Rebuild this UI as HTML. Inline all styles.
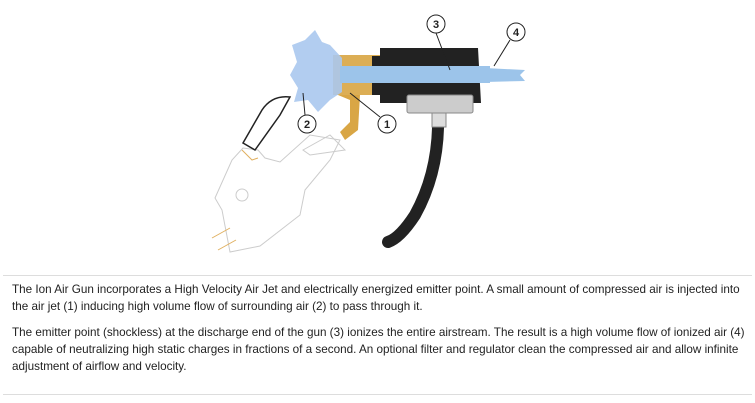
<!DOCTYPE html>
<html><head><style>
body{margin:0;background:#fff;width:755px;height:403px;overflow:hidden;font-family:"Liberation Sans",sans-serif;}
.hr{position:absolute;left:3px;width:749px;height:1px;background:#ddd;}
p{position:absolute;left:12px;margin:0;font-size:11.7px;line-height:17px;color:#222;letter-spacing:0px;white-space:nowrap;}
</style></head><body>
<svg width="755" height="270" style="position:absolute;left:0;top:0">
<g fill="none" stroke="#ccc" stroke-width="1">
<path d="M243 148 L232 160 L215 198 L222 210 L230 252 L260 246 L300 215 L305 190 L330 160 L340 140 L310 135 L280 162 L265 158 L258 150 Z"/>
<circle cx="242" cy="195" r="6"/>
<path d="M303 150 L330 135 L345 150 L310 155 Z"/>
</g>
<path d="M242 150 L252 160 L258 158" fill="none" stroke="#e0b060"/>
<path d="M212 238 L230 228 M218 250 L236 240" stroke="#e0b060"/>
<path d="M243 143 L262 110 Q272 95 290 97 L280 115 L255 150 Z" fill="#fff" stroke="#222" stroke-width="1.5"/>
<path d="M333 55 L380 55 L380 95 L333 95 Z" fill="#dcae55"/>
<path d="M338 95 L360 95 L358 130 L345 140 L340 132 L350 122 L350 100 Z" fill="#d9a645"/>
<path d="M380 48 L478 48 L481 103 L380 103 L380 95 L372 95 L372 56 L380 56 Z" fill="#222"/>
<path d="M438 112 Q440 170 415 215 Q400 238 388 242" fill="none" stroke="#222" stroke-width="12" stroke-linecap="round"/>
<rect x="407" y="95" width="66" height="18" rx="2" fill="#ccc" stroke="#888"/>
<rect x="432" y="113" width="14" height="14" fill="#ddd" stroke="#888"/>
<path d="M292 45 L305 40 L315 30 L322 42 L330 45 L342 58 L342 92 L330 100 L318 112 L308 100 L294 102 L298 88 L290 75 L297 62 Z" fill="#aac8ee" opacity="0.9"/>
<rect x="340" y="66" width="150" height="17" fill="#9cc4ea"/>
<path d="M485 68 L525 70 L520 75 L525 81 L485 82 Z" fill="#9cc4ea"/>
<g stroke="#222" stroke-width="1" fill="#fff">
<circle cx="436" cy="24" r="9"/><circle cx="516" cy="32" r="9"/>
<circle cx="307" cy="124" r="9"/><circle cx="387" cy="124" r="9"/>
</g>
<path d="M436 33 L450 70 M510 40 L494 66 M305 115 L303 93 M380 117 L350 93" stroke="#222"/>
<g font-size="11" font-weight="bold" text-anchor="middle" fill="#222">
<text x="436" y="28">3</text><text x="516" y="36">4</text><text x="307" y="128">2</text><text x="387" y="128">1</text>
</g>
</svg>
<div class="hr" style="top:275px"></div>
<p style="top:281px">The Ion Air Gun incorporates a High Velocity Air Jet and electrically energized emitter point. A small amount of compressed air is injected into<br>the air jet (1) inducing high volume flow of surrounding air (2) to pass through it.</p>
<p style="top:324px">The emitter point (shockless) at the discharge end of the gun (3) ionizes the entire airstream. The result is a high volume flow of ionized air (4)<br>capable of neutralizing high static charges in fractions of a second. An optional filter and regulator clean the compressed air and allow infinite<br>adjustment of airflow and velocity.</p>
<div class="hr" style="top:394px"></div>
</body></html>
